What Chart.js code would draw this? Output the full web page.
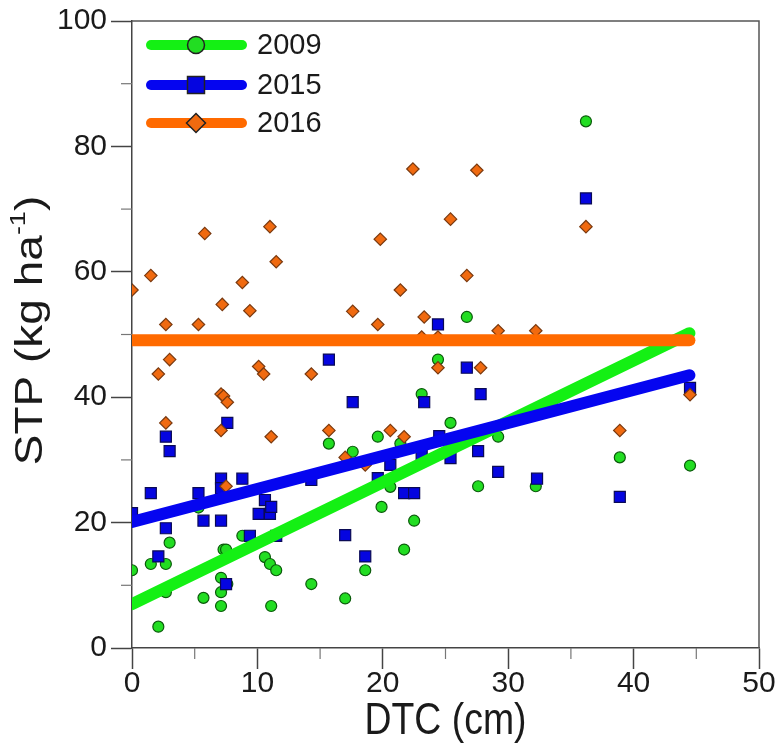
<!DOCTYPE html>
<html>
<head>
<meta charset="utf-8">
<script src="https://cdn.jsdelivr.net/npm/chart.js@4/dist/chart.umd.min.js"></script>
<style>
  html, body { margin: 0; padding: 0; background: #fff; }
</style>
</head>
<body>
<canvas id="myChart" width="777" height="753"></canvas>
<script>
// 2009 points (DTC, STP)
const x2009 = [0, 1.5, 2.7, 3.0, 2.1, 2.7, 5.3, 5.7, 7.1, 7.1, 7.1, 7.3, 7.5, 7.6, 8.8, 10.6, 11.0, 11.5, 11.1, 14.3, 17.0, 18.6, 15.7, 17.6, 19.6, 21.4, 19.9, 20.6, 21.7, 22.5, 23.1, 24.4, 26.7, 25.4, 29.2, 27.6, 32.2, 36.2, 38.9, 44.5];
const y2009 = [12.4, 13.4, 13.4, 16.8, 3.4, 8.9, 22.4, 8.0, 11.2, 8.9, 6.7, 15.7, 15.7, 10.2, 17.9, 14.5, 13.4, 12.4, 6.7, 10.2, 7.9, 12.4, 32.6, 31.3, 33.7, 32.6, 22.5, 25.7, 15.7, 20.3, 40.5, 46.0, 52.8, 35.9, 33.7, 25.8, 25.8, 84.0, 30.4, 29.1];

// 2015 points
const x2015 = [0, 1.5, 2.7, 2.1, 2.7, 3.0, 5.3, 5.7, 7.1, 7.1, 7.1, 7.5, 7.6, 8.8, 9.4, 10.1, 10.6, 11.0, 11.1, 11.5, 14.3, 15.7, 17.0, 17.6, 18.6, 19.6, 20.6, 21.7, 22.5, 23.1, 23.3, 24.4, 24.5, 25.4, 26.7, 27.6, 27.8, 29.2, 32.3, 36.2, 38.9, 44.5];
const y2015 = [21.5, 24.7, 19.1, 14.6, 33.7, 31.4, 24.7, 20.3, 27.0, 25.5, 20.3, 10.2, 35.9, 27.0, 17.9, 21.4, 23.6, 21.4, 22.5, 17.9, 26.8, 46.0, 18.0, 39.2, 14.6, 27.1, 29.2, 24.7, 24.7, 30.8, 39.2, 51.6, 33.8, 30.3, 44.7, 31.4, 40.5, 28.1, 27.0, 71.7, 24.1, 41.5];

// 2016 points
const x2016 = [0, 1.5, 8.8, 7.2, 9.4, 2.7, 5.3, 3.0, 2.1, 10.1, 10.5, 7.1, 7.3, 7.6, 2.7, 7.1, 11.1, 7.5, 5.8, 11.0, 11.5, 21.4, 17.6, 19.6, 23.3, 23.1, 24.4, 14.3, 15.7, 20.6, 21.7, 17.0, 18.6, 27.5, 25.4, 26.7, 36.2, 22.4, 19.8, 29.2, 32.2, 24.4, 27.8, 38.9, 44.5];
const y2016 = [57.1, 59.4, 58.3, 54.8, 53.8, 51.6, 51.6, 46.0, 43.7, 44.9, 43.7, 40.5, 40.2, 39.2, 35.9, 34.7, 33.7, 25.8, 66.1, 67.2, 61.6, 57.1, 53.7, 51.6, 52.8, 49.6, 49.6, 43.7, 34.7, 34.7, 33.7, 30.4, 29.2, 76.2, 68.4, 59.4, 67.2, 76.4, 65.2, 50.6, 50.6, 44.7, 44.7, 34.7, 40.4];

// regression line ends
const fitX = [0, 44.45];
const fit2009 = [7.0, 50.2];
const fit2015 = [20.1, 43.5];
const fit2016 = [49.1, 49.1];

const xTicks = [0, 10, 20, 30, 40, 50];
const yTicks = [0, 20, 40, 60, 80, 100];

const xTitle = 'DTC (cm)';
const yTitle = ['STP (kg ha', '-1', ')'];

const pts = (xs, ys) => xs.map((x, i) => ({ x: x, y: ys[i] }));

const FONT = "'Liberation Sans', Arial, sans-serif";

const series = [
    { label: '2009', line: '#14f014', fill: '#22dd22', edge: '#0a5a0a', style: 'circle', r: 5.5, legendR: 8.5 },
    { label: '2015', line: '#0505f0', fill: '#0505e0', edge: '#0a0a55', style: 'rect', r: 7.8, legendR: 12 },
    { label: '2016', line: '#ff6a00', fill: '#f06a10', edge: '#7a3a10', style: 'rectRot', r: 6.2, legendR: 9.5 }
];

// frame, minor ticks, axis titles and legend
const extras = {
    id: 'extras',
    afterDatasetsDraw(chart) {
        const { ctx, chartArea: a, scales } = chart;
        ctx.save();
        ctx.strokeStyle = '#555';
        ctx.lineWidth = 1.5;
        ctx.beginPath();
        ctx.moveTo(a.left, a.top);
        ctx.lineTo(a.right, a.top);
        ctx.lineTo(a.right, a.bottom);
        ctx.stroke();

        ctx.strokeStyle = '#777';
        ctx.lineWidth = 1.2;
        for (let v = 5; v < 50; v += 10) {
            const px = scales.x.getPixelForValue(v);
            ctx.beginPath();
            ctx.moveTo(px, a.bottom);
            ctx.lineTo(px, a.bottom + 11);
            ctx.stroke();
        }
        for (let v = 10; v < 100; v += 20) {
            const py = scales.y.getPixelForValue(v);
            ctx.beginPath();
            ctx.moveTo(a.left, py);
            ctx.lineTo(a.left - 11, py);
            ctx.stroke();
        }

        // axis titles (slightly condensed, like the source figure)
        ctx.fillStyle = '#1a1a1a';
        ctx.textBaseline = 'middle';
        ctx.save();
        ctx.translate((a.left + a.right) / 2, 722);
        ctx.scale(0.85, 1);
        ctx.font = '44px ' + FONT;
        ctx.textAlign = 'center';
        ctx.fillText(xTitle, 0, 0);
        ctx.restore();

        ctx.save();
        ctx.translate(31, (a.top + a.bottom) / 2 - 4);
        ctx.scale(0.85, 1);
        ctx.rotate(-Math.PI / 2);
        ctx.textAlign = 'left';
        ctx.font = '46px ' + FONT;
        const w0 = ctx.measureText(yTitle[0]).width;
        const w2 = ctx.measureText(yTitle[2]).width;
        ctx.font = '27px ' + FONT;
        const w1 = ctx.measureText(yTitle[1]).width;
        let cx = -(w0 + w1 + w2) / 2;
        ctx.font = '46px ' + FONT;
        ctx.fillText(yTitle[0], cx, 0);
        cx += w0;
        ctx.font = '27px ' + FONT;
        ctx.fillText(yTitle[1], cx, -14);
        cx += w1;
        ctx.font = '46px ' + FONT;
        ctx.fillText(yTitle[2], cx, 0);
        ctx.restore();

        // legend
        const rows = [45, 85, 123];
        series.forEach((s, i) => {
            const y = rows[i];
            ctx.strokeStyle = s.line;
            ctx.lineWidth = 10;
            ctx.lineCap = 'round';
            ctx.beginPath();
            ctx.moveTo(151, y);
            ctx.lineTo(242, y);
            ctx.stroke();
            ctx.fillStyle = s.fill;
            ctx.strokeStyle = '#222';
            ctx.lineWidth = 1.5;
            Chart.helpers.drawPoint(ctx, { pointStyle: s.style, radius: s.legendR, borderWidth: 1.5 }, 196, y);
            ctx.fillStyle = '#1a1a1a';
            ctx.font = '29px ' + FONT;
            ctx.textBaseline = 'middle';
            ctx.textAlign = 'left';
            ctx.fillText(s.label, 257, y + 1);
        });
        ctx.restore();
    }
};

const scatterSets = series.map((s, i) => ({
    type: 'scatter',
    label: s.label,
    data: pts([x2009, x2015, x2016][i], [y2009, y2015, y2016][i]),
    pointStyle: s.style,
    pointRadius: s.r,
    pointHoverRadius: s.r,
    backgroundColor: s.fill,
    borderColor: s.edge,
    borderWidth: 1.2,
    order: 5 - i
}));

const lineSets = series.map((s, i) => ({
    type: 'line',
    label: s.label + ' fit',
    data: pts(fitX, [fit2009, fit2015, fit2016][i]),
    borderColor: s.line,
    borderWidth: 12,
    borderCapStyle: 'round',
    pointRadius: 0,
    fill: false,
    order: 2 - i
}));

const noPad = (scale) => {
    scale.paddingLeft = 0;
    scale.paddingRight = 0;
    scale.paddingTop = 0;
    scale.paddingBottom = 0;
};

const ctx = document.getElementById('myChart').getContext('2d');

const myChart = new Chart(ctx, {
    type: 'scatter',
    data: { datasets: scatterSets.concat(lineSets) },
    options: {
        responsive: false,
        animation: false,
        layout: { padding: { top: 21, right: 18, left: 0, bottom: 0 } },
        scales: {
            x: {
                type: 'linear',
                min: 0,
                max: 50,
                afterFit: (scale) => { scale.height = 105; noPad(scale); },
                afterBuildTicks: (scale) => { scale.ticks = xTicks.map(v => ({ value: v })); },
                border: { color: '#444', width: 1.5 },
                grid: { drawOnChartArea: false, tickLength: 21, tickColor: '#444', tickWidth: 1.5 },
                ticks: { color: '#1a1a1a', padding: -3, maxRotation: 0, font: { family: FONT, size: 30 } },
                title: { display: false }
            },
            y: {
                type: 'linear',
                min: 0,
                max: 100,
                afterFit: (scale) => { scale.width = 132; noPad(scale); },
                afterBuildTicks: (scale) => { scale.ticks = yTicks.map(v => ({ value: v })); },
                border: { color: '#444', width: 1.5 },
                grid: { drawOnChartArea: false, tickLength: 21, tickColor: '#444', tickWidth: 1.5 },
                ticks: { color: '#1a1a1a', padding: 4, font: { family: FONT, size: 30 } },
                title: { display: false }
            }
        },
        plugins: {
            legend: { display: false },
            tooltip: { enabled: false }
        }
    },
    plugins: [extras]
});
</script>
</body>
</html>
